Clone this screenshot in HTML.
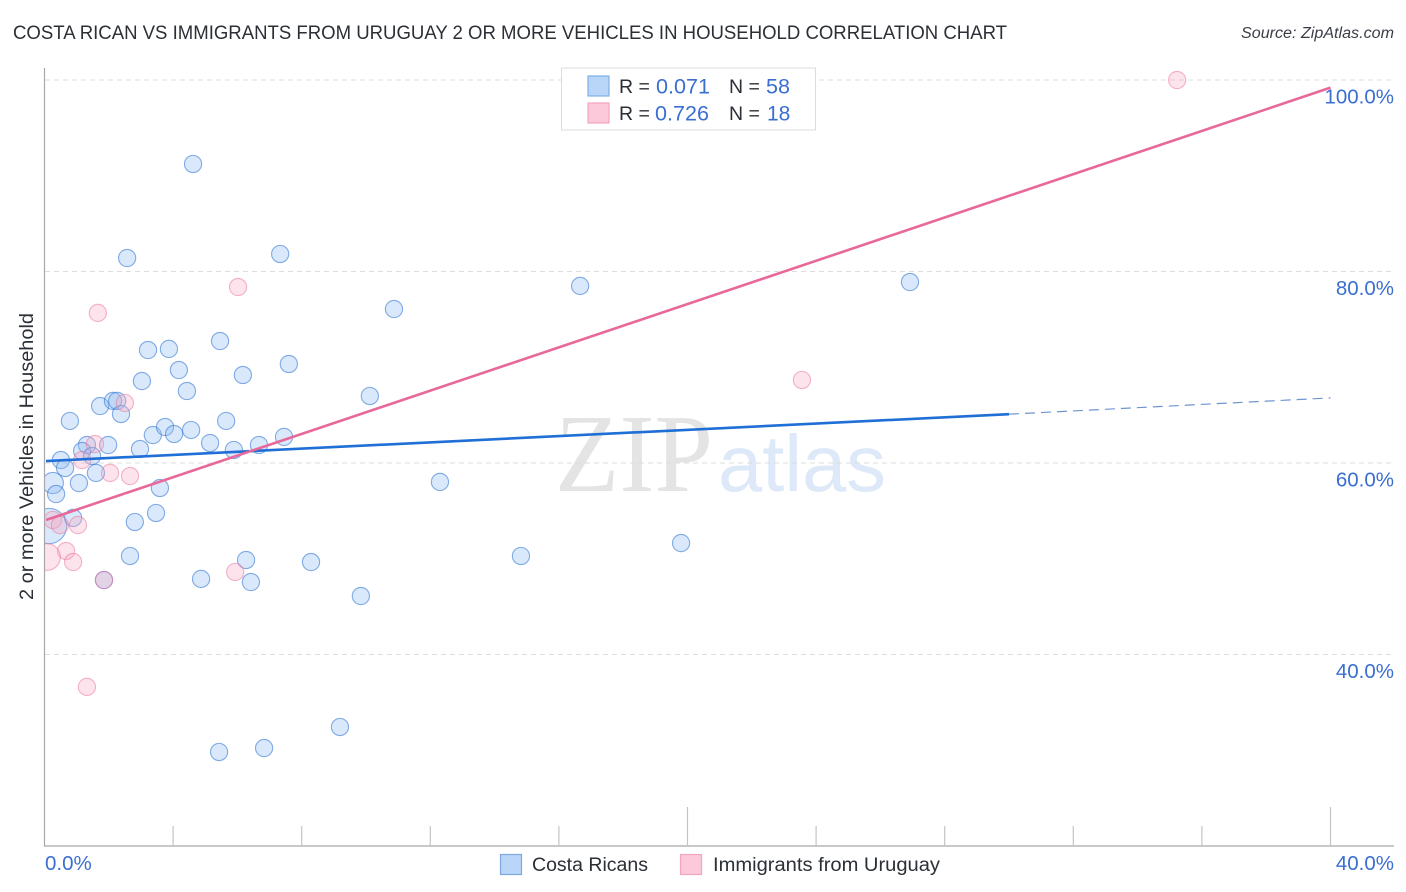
<!DOCTYPE html>
<html lang="en">
<head>
<meta charset="utf-8">
<title>Costa Rican vs Immigrants from Uruguay correlation chart</title>
<style>
html,body{margin:0;padding:0;background:#fff;width:1406px;height:892px;overflow:hidden}
svg{display:block;font-family:"Liberation Sans",sans-serif}
</style>
</head>
<body>
<svg id="chart" xmlns="http://www.w3.org/2000/svg" width="1406" height="892" viewBox="0 0 1406 892">
  <defs>
    <clipPath id="plot-clip"><rect x="45" y="60" width="1349" height="786"/></clipPath>
  </defs>
  <rect width="1406" height="892" fill="#fff"/>
  <text x="13" y="39" font-size="19" fill="#2b2f36" textLength="994" lengthAdjust="spacingAndGlyphs">COSTA RICAN VS IMMIGRANTS FROM URUGUAY 2 OR MORE VEHICLES IN HOUSEHOLD CORRELATION CHART</text>
  <text x="1241" y="38" font-size="15.5" font-style="italic" fill="#3a3f47" textLength="153" lengthAdjust="spacingAndGlyphs">Source: ZipAtlas.com</text>

  <g id="watermark">
    <text x="555" y="491" font-family="'Liberation Serif',serif" font-size="111" fill="#e4e4e4" textLength="158" lengthAdjust="spacingAndGlyphs">ZIP</text>
    <text x="718" y="491" font-size="80" fill="#dde8f8" textLength="168" lengthAdjust="spacingAndGlyphs">atlas</text>
  </g>

  <g id="grid"></g>
  <g id="points" clip-path="url(#plot-clip)"></g>
  <g id="trends"></g>
  <g id="axes"></g>

  <text x="0" y="0" transform="translate(33,456.5) rotate(-90)" text-anchor="middle" font-size="19.5" fill="#2b2f36" textLength="287" lengthAdjust="spacingAndGlyphs">2 or more Vehicles in Household</text>

  <g id="stats-legend">
    <rect x="561.5" y="68" width="254" height="62" fill="#fff" stroke="#dcdcdc" stroke-width="1"/>
    <rect x="588" y="76" width="21" height="20" fill="#b9d5f8" stroke="#7fb0e6" stroke-width="1.2"/>
    <rect x="588" y="103" width="21" height="20" fill="#fcc9da" stroke="#f3a5bf" stroke-width="1.2"/>
    <text x="619" y="93" font-size="19.5" fill="#2b2f36">R =</text>
    <text x="656" y="93.5" font-size="21" fill="#3a6fd0" textLength="54" lengthAdjust="spacingAndGlyphs">0.071</text>
    <text x="729" y="93" font-size="19.5" fill="#2b2f36">N =</text>
    <text x="766" y="93.5" font-size="21" fill="#3a6fd0" textLength="24" lengthAdjust="spacingAndGlyphs">58</text>
    <text x="619" y="120" font-size="19.5" fill="#2b2f36">R =</text>
    <text x="655" y="120.5" font-size="21" fill="#3a6fd0" textLength="54" lengthAdjust="spacingAndGlyphs">0.726</text>
    <text x="729" y="120" font-size="19.5" fill="#2b2f36">N =</text>
    <text x="767" y="120.5" font-size="21" fill="#3a6fd0">18</text>
  </g>

  <g id="bottom-legend">
    <rect x="500.5" y="854.5" width="21" height="20" fill="#b9d5f8" stroke="#7fa8df" stroke-width="1.2"/>
    <text x="532" y="871" font-size="19" fill="#2b2f36" textLength="116" lengthAdjust="spacingAndGlyphs">Costa Ricans</text>
    <rect x="680.5" y="854.5" width="21" height="20" fill="#fcc9da" stroke="#f3a5bf" stroke-width="1.2"/>
    <text x="713" y="871" font-size="19" fill="#2b2f36" textLength="227" lengthAdjust="spacingAndGlyphs">Immigrants from Uruguay</text>
  </g>
</svg>
<script>
// ---- data (percent values) ----
var blueX = [4.62,2.57,7.33,16.66,26.92,10.87,5.46,3.22,3.87,7.60,4.18,6.17,10.12,3.03,4.43,1.73,2.13,2.26,2.38,0.79,3.37,3.75,4.03,4.56,5.65,5.15,5.89,6.67,7.45,2.97,1.98,1.32,1.17,1.48,0.51,0.64,1.60,1.07,0.26,0.36,3.59,3.47,2.81,0.89,0.14,2.66,6.27,4.87,6.42,1.85,12.30,14.82,19.80,8.29,9.84,9.19,6.83,5.43];
var blueY = [91.23,81.41,81.83,78.49,78.90,76.08,72.74,71.80,71.91,70.34,69.71,69.19,67.00,68.56,67.52,65.95,66.48,66.48,65.12,64.39,62.92,63.76,63.03,63.45,64.39,62.09,61.36,61.88,62.72,61.46,61.88,61.88,61.25,60.73,60.31,59.48,58.96,57.91,57.91,56.76,57.39,54.78,53.84,54.26,53.42,50.29,49.87,47.89,47.57,47.78,58.02,50.29,51.64,49.66,46.11,32.43,30.23,29.82];
var blueWeight = [1,1,1,1,1,1,1,1,1,1,1,1,1,1,1,1,1,1,1,1,1,1,1,1,1,1,1,1,1,1,1,1,1,1,1,1,1,1,1.5,1,1,1,1,1,4.2,1,1,1,1,1,1,1,1,1,1,1,1,1];
var pinkX = [2.50,1.57,1.17,2.04,2.66,0.26,0.48,1.04,0.67,0.89,0.08,5.93,1.85,1.66,6.02,23.56,35.23,1.32];
var pinkY = [66.27,61.98,60.31,58.96,58.64,54.05,53.52,53.52,50.81,49.66,50.18,48.62,47.78,75.67,78.38,68.67,100,36.61];
var pinkWeight = [1,1,1,1,1,1,1,1,1,1,2.4,1,1,1,1,1,1,1];
var blueTrendX = [0,30,40];
var blueTrendY = [60.2,65.1,66.8];
var pinkTrendX = [0,40];
var pinkTrendY = [54.05,99.2];
var yTicks = [100,80,60,40];
var yTickLabels = ["100.0%","80.0%","60.0%","40.0%"];
var xTicks = [0,4,8,12,16,20,24,28,32,36,40];
var xEndLabels = ["0.0%","40.0%"];

// ---- axis functions ----
function sx(v){return 44.5 + v*32.15;}
function sy(v){return 80 + (100-v)*9.575;}

var NS = 'http://www.w3.org/2000/svg';
function make(parent, tag, attrs){
  var el = document.createElementNS(NS, tag);
  for (var k in attrs){ el.setAttribute(k, attrs[k]); }
  parent.appendChild(el);
  return el;
}
var grid = document.getElementById('grid');
var pts = document.getElementById('points');
var trends = document.getElementById('trends');
var axes = document.getElementById('axes');

// gridlines and y labels
yTicks.forEach(function(t, i){
  var ln = make(grid, 'line', {x1:45, x2:1394, y1:sy(t), y2:sy(t), stroke:'#dcdcdc', 'stroke-width':1, 'stroke-dasharray':'5 4'});
  
  
  var lb = make(axes, 'text', {x:1394, y:sy(t)+23.5, 'text-anchor':'end', 'font-size':20.5, fill:'#3a6fd0'});
  lb.textContent = yTickLabels[i];
  
  
});

// axes lines
var yAxis = make(axes, 'line', {x1:44.5, x2:44.5, y1:68, y2:846.5, stroke:'#a8a8a8', 'stroke-width':1.2});


var xAxis = make(axes, 'line', {x1:44, x2:1394, y1:846, y2:846, stroke:'#a8a8a8', 'stroke-width':1.2});



// x ticks
xTicks.forEach(function(t){
  if (t === 0) return;
  var tall = (t === 20 || t === 40);
  var tk = make(axes, 'line', {x1:sx(t), x2:sx(t), y1:tall ? 807 : 826, y2:846, stroke:'#c4c4c4', 'stroke-width':1.2});
  
  
});
var xl0 = make(axes, 'text', {x:45, y:870, 'font-size':20.5, fill:'#3a6fd0'});
xl0.textContent = xEndLabels[0];


var xl1 = make(axes, 'text', {x:1394, y:870, 'text-anchor':'end', 'font-size':20.5, fill:'#3a6fd0'});
xl1.textContent = xEndLabels[1];



// points
blueX.forEach(function(x, i){
  var c = make(pts, 'circle', {cx:sx(x), cy:sy(blueY[i]), r:8.6*Math.sqrt(blueWeight[i]), fill:'rgba(140,185,240,0.33)', stroke:'rgba(60,125,215,0.62)', 'stroke-width':1.1});
  
  
});
pinkX.forEach(function(x, i){
  var c = make(pts, 'circle', {cx:sx(x), cy:sy(pinkY[i]), r:8.6*Math.sqrt(pinkWeight[i]), fill:'rgba(248,170,195,0.33)', stroke:'rgba(235,120,160,0.55)', 'stroke-width':1.1});
  
  
});

// trend lines
var bs = make(trends, 'line', {x1:sx(blueTrendX[0])+1.5, y1:sy(blueTrendY[0]), x2:sx(blueTrendX[1]), y2:sy(blueTrendY[1]), stroke:'#1f6fd6', 'stroke-width':2.6});


var bd = make(trends, 'line', {x1:sx(blueTrendX[1]), y1:sy(blueTrendY[1]), x2:sx(blueTrendX[2]), y2:sy(blueTrendY[2]), stroke:'#6f95cf', 'stroke-width':1.2, 'stroke-dasharray':'10 6'});


var ps = make(trends, 'line', {x1:sx(pinkTrendX[0])+1.5, y1:sy(pinkTrendY[0]), x2:sx(pinkTrendX[1]), y2:sy(pinkTrendY[1]), stroke:'#e8689a', 'stroke-width':2.6});


</script>
</body>
</html>
